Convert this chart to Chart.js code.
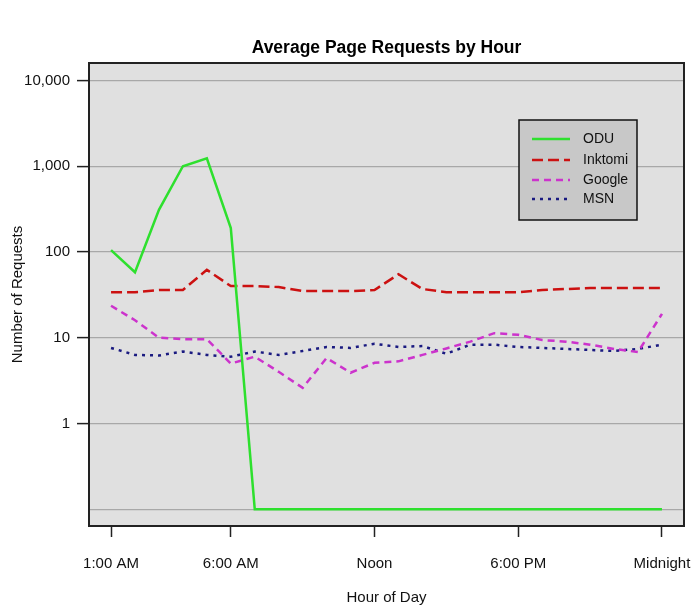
<!DOCTYPE html>
<html><head><meta charset="utf-8">
<script src="https://cdn.jsdelivr.net/npm/chart.js@4/dist/chart.umd.min.js"></script>
<style>html,body{margin:0;padding:0;background:#fff;}</style>
</head><body>
<canvas id="c" width="692" height="607"></canvas>
<script>
const hours = [1,2,3,4,5,6,7,8,9,10,11,12,13,14,15,16,17,18,19,20,21,22,23,24];
const tickHours = [1,6,12,18,24];
const tickLabels = ['1:00 AM','6:00 AM','Noon','6:00 PM','Midnight'];
const yTicks = [0.1,1,10,100,1000,10000];
const odu     = [105,58,310,1000,1240,190,0.1,0.1,0.1,0.1,0.1,0.1,0.1,0.1,0.1,0.1,0.1,0.1,0.1,0.1,0.1,0.1,0.1,0.1];
const inktomi = [34,34,36,36,62,40,40,39,35,35,35,36,55,37,34,34,34,34,36,37,38,38,38,38];
const google  = [23.6,16,10,9.6,9.6,5.0,6.0,4.0,2.6,5.8,3.9,5.1,5.3,6.3,7.5,9.0,11.3,10.8,9.4,9.0,8.3,7.4,6.8,19];
const msn     = [7.6,6.3,6.2,6.9,6.3,6.0,6.9,6.3,7.0,7.8,7.6,8.5,7.8,8.0,6.5,8.3,8.3,7.8,7.6,7.4,7.2,7.0,7.4,8.3];

const FONT = "'Liberation Sans', Arial, sans-serif";
Chart.defaults.font.family = FONT;
Chart.defaults.color = '#111';

const pts = arr => arr.map((v,i) => ({x: hours[i], y: v}));

const bgPlugin = {
  id: 'bg',
  afterLayout(chart) {
    const t = chart.titleBlock, a = chart.chartArea;
    if (t) { t.left = a.left; t.right = a.right; t.width = a.right - a.left; }
  },
  beforeDraw(chart) {
    const {ctx, chartArea: a} = chart;
    ctx.save();
    ctx.fillStyle = '#e0e0e0';
    ctx.fillRect(a.left, a.top, a.right - a.left, a.bottom - a.top);
    ctx.restore();
  },
  afterDatasetsDraw(chart) {
    const {ctx, chartArea: a} = chart;
    ctx.save();
    ctx.strokeStyle = '#222';
    ctx.lineWidth = 2;
    ctx.strokeRect(a.left, a.top, a.right - a.left, a.bottom - a.top);
    // legend
    const lx = 519, ly = 120, lw = 118, lh = 100;
    ctx.fillStyle = '#c8c8c8';
    ctx.fillRect(lx, ly, lw, lh);
    ctx.strokeStyle = '#111';
    ctx.lineWidth = 1.5;
    ctx.strokeRect(lx, ly, lw, lh);
    const rows = [139, 160, 180, 199];
    chart.data.datasets.forEach((ds, i) => {
      const y = rows[i];
      ctx.beginPath();
      ctx.setLineDash(ds.borderDash || []);
      ctx.strokeStyle = ds.borderColor;
      ctx.lineWidth = ds.borderWidth;
      ctx.moveTo(532, y);
      ctx.lineTo(570, y);
      ctx.stroke();
      ctx.setLineDash([]);
      ctx.fillStyle = '#111';
      ctx.font = '14px ' + FONT;
      ctx.textBaseline = 'middle';
      ctx.textAlign = 'left';
      ctx.fillText(ds.label, 583, y);
    });
    ctx.restore();
  }
};

new Chart(document.getElementById('c'), {
  type: 'line',
  data: {
    datasets: [
      {label: 'ODU', data: pts(odu), borderColor: '#2ee02e', borderWidth: 2.5},
      {label: 'Inktomi', data: pts(inktomi), borderColor: '#cc1111', borderWidth: 2.5, borderDash: [11,5]},
      {label: 'Google', data: pts(google), borderColor: '#cc33cc', borderWidth: 2.5, borderDash: [7,5]},
      {label: 'MSN', data: pts(msn), borderColor: '#1a1a80', borderWidth: 2.5, borderDash: [3,5]}
    ]
  },
  options: {
    responsive: false,
    animation: false,
    devicePixelRatio: 1,
    elements: {point: {radius: 0}, line: {tension: 0, fill: false}},
    layout: {padding: {left: 0, right: 8, top: 0, bottom: 0}},
    plugins: {
      legend: {display: false},
      tooltip: {enabled: false},
      title: {
        display: true,
        text: 'Average Page Requests by Hour',
        color: '#000',
        font: {size: 17.5, weight: 'bold'},
        padding: {top: 38, bottom: 4}
      }
    },
    scales: {
      x: {
        type: 'linear',
        min: 0.08, max: 24.92,
        afterBuildTicks: s => { s.ticks = tickHours.map(v => ({value: v})); },
        afterFit: s => { s.height = 81; s.paddingLeft = 0; s.paddingRight = 0; },
        ticks: {
          autoSkip: false, maxRotation: 0, minRotation: 0, padding: 18,
          font: {size: 15}, color: '#111',
          callback: v => tickLabels[tickHours.indexOf(v)]
        },
        grid: {drawOnChartArea: false, drawTicks: true, tickLength: 11, tickColor: '#222', tickWidth: 1.5},
        border: {display: false},
        title: {display: true, text: 'Hour of Day', font: {size: 15}, color: '#111', padding: {top: 0, bottom: 0}}
      },
      y: {
        type: 'logarithmic',
        min: 0.0636, max: 16020,
        afterBuildTicks: s => { s.ticks = yTicks.map(v => ({value: v})); },
        afterFit: s => { s.width = 89; s.paddingTop = 0; s.paddingBottom = 0; },
        ticks: {
          padding: 7, font: {size: 15}, color: '#111',
          callback: v => v < 1 ? '' : Number(v).toLocaleString('en-US')
        },
        grid: {
          color: '#a8a8a8', lineWidth: 1.2, tickLength: 12, tickWidth: 1.5,
          tickColor: c => (c.tick && c.tick.value < 1) ? 'rgba(0,0,0,0)' : '#222'
        },
        border: {display: false},
        title: {display: true, text: 'Number of Requests', font: {size: 15}, color: '#111', padding: {top: 9, bottom: 0}}
      }
    }
  },
  plugins: [bgPlugin]
});
</script>
</body></html>
